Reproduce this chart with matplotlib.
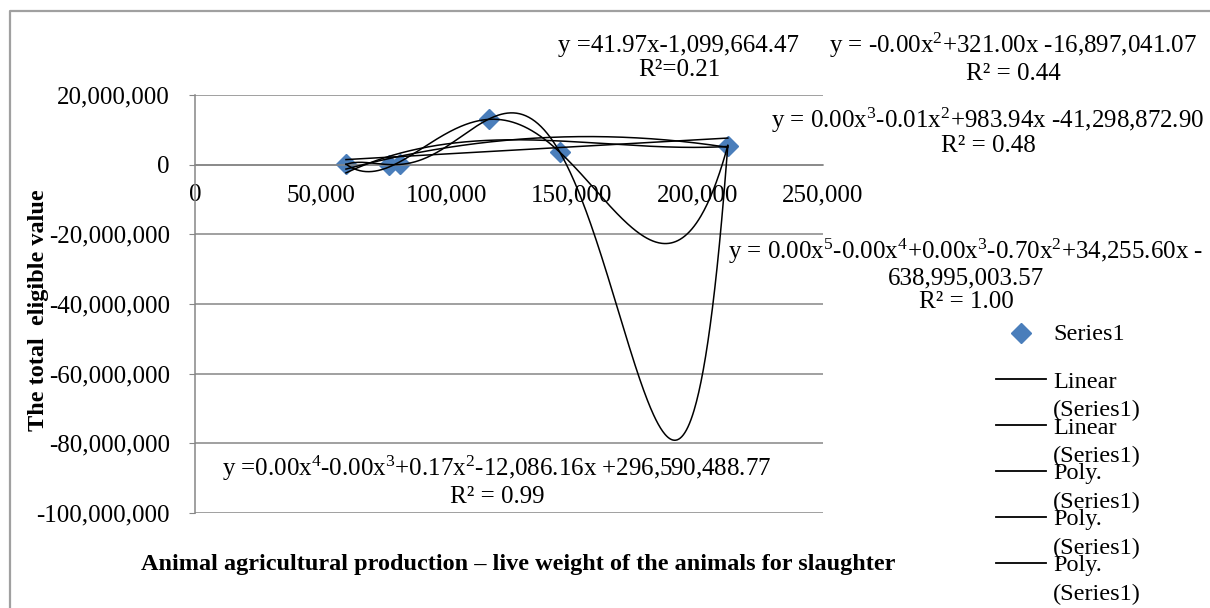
import numpy as np
import matplotlib.pyplot as plt
from matplotlib.ticker import FuncFormatter, MultipleLocator

# data (live weight, total eligible value)
weight = np.array([60100, 77100, 81500, 117000, 145300, 212100])
value = np.array([80000, 30000, 60000, 13100000, 3500000, 5500000])

degrees = [1, 2, 3, 4, 5]
legend_names = ["Linear\n(Series1)", "Linear\n(Series1)", "Poly.\n(Series1)",
                "Poly.\n(Series1)", "Poly.\n(Series1)"]

eq_texts = [
    "y =41.97x-1,099,664.47\nR²=0.21",
    "y = -0.00x$^2$+321.00x -16,897,041.07\nR² = 0.44",
    "y = 0.00x$^3$-0.01x$^2$+983.94x -41,298,872.90\nR² = 0.48",
    "y =0.00x$^4$-0.00x$^3$+0.17x$^2$-12,086.16x +296,590,488.77\nR² = 0.99",
    "y = 0.00x$^5$-0.00x$^4$+0.00x$^3$-0.70x$^2$+34,255.60x -\n638,995,003.57\nR² = 1.00",
]

plt.rcParams['font.family'] = ['Liberation Serif', 'DejaVu Serif']
plt.rcParams['mathtext.fontset'] = 'custom'
plt.rcParams['mathtext.rm'] = 'Liberation Serif'
plt.rcParams['mathtext.it'] = 'Liberation Serif'

W, H = 1210, 608
fig = plt.figure(figsize=(W / 100, H / 100), dpi=100)
ax = fig.add_axes([195 / W, 1 - 513 / H, (823 - 195) / W, (513 - 95) / H])

grey = '#868686'
ax.set_xlim(0, 250000)
ax.set_ylim(-100000000, 20000000)
ax.yaxis.set_major_locator(MultipleLocator(20000000))
ax.xaxis.set_major_locator(MultipleLocator(50000))
fmt = FuncFormatter(lambda v, p: "{:,.0f}".format(v))
ax.xaxis.set_major_formatter(fmt)
ax.yaxis.set_major_formatter(fmt)
ax.grid(axis='y', color=grey, lw=1.1)
ax.set_axisbelow(True)
for s in ['top', 'right']:
    ax.spines[s].set_visible(False)
ax.spines['left'].set_color(grey)
ax.spines['left'].set_linewidth(1.1)
ax.spines['bottom'].set_position(('data', 0))
ax.spines['bottom'].set_color(grey)
ax.spines['bottom'].set_linewidth(1.1)
ax.tick_params(axis='y', length=4, color=grey, labelsize=18, pad=14)
ax.tick_params(axis='x', length=0, labelsize=18, pad=14)

ax.plot(weight, value, 'D', color='#4a7ebb', ms=10, zorder=2)

xx = np.linspace(weight.min(), weight.max(), 500)
for d in degrees:
    p = np.polynomial.Polynomial.fit(weight, value, d)
    ax.plot(xx, p(xx), color='black', lw=1.1, zorder=3)

ax.set_ylabel("The total  eligible value", fontsize=17.5, fontweight='bold')
ax.set_xlabel("Animal agricultural production \u2013 live weight of the animals for slaughter",
              fontsize=17.5, fontweight='bold')
ax.xaxis.set_label_coords(0.514, -0.098)
ax.yaxis.set_label_coords(-0.232, 0.486)

# overlay in pixel coordinates for labels, legend and frame
ov = fig.add_axes([0, 0, 1, 1], zorder=5)
ov.set_xlim(0, W)
ov.set_ylim(H, 0)
ov.axis('off')
ov.plot([9.5, 9.5, W], [H, 10.5, 10.5], color='#a0a0a0', lw=1.6)

tsize = 18
ov.text(679, 58, eq_texts[0], ha='center', va='center', fontsize=tsize, linespacing=1.15)
ov.text(1013, 58, eq_texts[1], ha='center', va='center', fontsize=tsize, linespacing=1.15)
ov.text(988, 131, eq_texts[2], ha='center', va='center', fontsize=tsize, linespacing=1.0)
ov.text(497, 481, eq_texts[3], ha='center', va='center', fontsize=tsize, linespacing=1.15)
ov.text(966, 275, eq_texts[4], ha='center', va='center', fontsize=tsize, linespacing=1.1)

lsize = 17.5
ov.plot([1021], [333], 'D', color='#4a7ebb', ms=10)
ov.text(1053, 335, "Series1", ha='left', va='center', fontsize=lsize)
for i, name in enumerate(legend_names):
    ly = 379 + i * 46
    ov.plot([996, 1046], [ly, ly], color='black', lw=1.3)
    l1, l2 = name.split("\n")
    ov.text(1053, ly + 3, l1, ha='left', va='center', fontsize=lsize)
    ov.text(1053, ly + 31, l2, ha='left', va='center', fontsize=lsize)

fig.savefig("out.png", dpi=100)
